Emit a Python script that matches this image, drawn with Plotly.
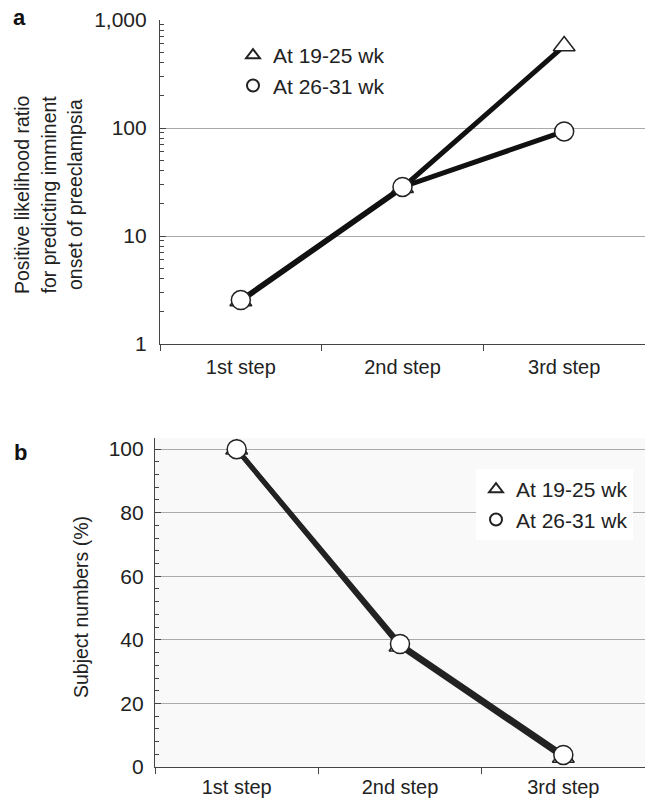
import plotly.graph_objects as go

steps = ["1st step", "2nd step", "3rd step"]
lr_19_25 = [2.5, 28, 575]
lr_26_31 = [2.55, 28.5, 93]
subj_19_25 = [100, 38, 3]
subj_26_31 = [100, 38.7, 3.8]
series_names = ["At 19-25 wk", "At 26-31 wk"]
log_ticks = [1, 10, 100, 1000]
log_ticktext = ["1", "10", "100", "1,000"]

FONT = "Liberation Sans, Arial, sans-serif"
fig = go.Figure()

def add_series(x, y, sym, xa, ya, lcol):
    fig.add_trace(go.Scatter(
        x=x, y=y, mode="lines+markers", xaxis=xa, yaxis=ya, showlegend=False,
        line=dict(color=lcol, width=5),
        marker=dict(symbol=sym, size=19,
                    color="white", line=dict(color="#222", width=1.5)),
        cliponaxis=False))

# panel a
add_series(steps, lr_19_25, "triangle-up", "x", "y", "#111")
add_series(steps, lr_26_31, "circle", "x", "y", "#111")
# panel b
add_series(steps, subj_19_25, "triangle-up", "x2", "y2", "#222")
add_series(steps, subj_26_31, "circle", "x2", "y2", "#222")

# legend entries
for leg, xa, ya in [("legend", "x", "y"), ("legend2", "x2", "y2")]:
    for name, sym in zip(series_names, ["triangle-up", "circle"]):
        fig.add_trace(go.Scatter(
            x=[None], y=[None], mode="markers", name=name, legend=leg,
            xaxis=xa, yaxis=ya,
            marker=dict(symbol=sym, size=19, color="white",
                        line=dict(color="#222", width=1.1))))

line_common = dict(showline=True, linecolor="#444", linewidth=1.2,
                   automargin=False)
yfont = dict(family=FONT, size=21, color="#222")
xfont = dict(family=FONT, size=20, color="#222")

fig.update_layout(
    width=645, height=803,
    margin=dict(l=0, r=0, t=0, b=0),
    paper_bgcolor="white", plot_bgcolor="rgba(0,0,0,0)",
    font=dict(family=FONT, color="#222"),
    xaxis=dict(domain=[160/645, 1.0], anchor="y", type="category",
               range=[-0.5, 2.5], tickson="boundaries", ticks="outside",
               ticklen=6, tickcolor="#444", showgrid=False,
               tickfont=xfont, ticklabelstandoff=5, **line_common),
    yaxis=dict(domain=[1-344/803, 1-20/803], anchor="x", type="log",
               range=[0, 3], tickvals=log_ticks, ticktext=log_ticktext,
               ticks="inside", ticklen=6, tickcolor="#444",
               ticklabelstandoff=8, tickfont=yfont,
               showgrid=True, gridcolor="#aaa", gridwidth=1,
               minor=dict(ticks="inside", ticklen=4, tickcolor="#444",
                          tickvals=[2, 3, 4, 5, 6, 7, 8, 9,
                                    20, 30, 40, 50, 60, 70, 80, 90,
                                    200, 300, 400, 500, 600, 700, 800, 900],
                          showgrid=False),
               **line_common),
    xaxis2=dict(domain=[155/645, 1.0], anchor="y2", type="category",
                range=[-0.5, 2.5], tickson="boundaries", ticks="outside",
                ticklen=6, tickcolor="#444", showgrid=False,
                tickfont=xfont, ticklabelstandoff=2, **line_common),
    yaxis2=dict(domain=[1-767/803, 1-438/803], anchor="x2",
                range=[0, 103.5], tickvals=[0, 20, 40, 60, 80, 100],
                ticks="inside", ticklen=6, tickcolor="#444",
                ticklabelstandoff=6, tickfont=yfont,
                showgrid=True, gridcolor="#aaa", gridwidth=1,
                minor=dict(ticks="inside", ticklen=4, tickcolor="#444",
                           dtick=4, showgrid=False),
                **line_common),
    legend=dict(x=233/645, y=1-35/803, xanchor="left", yanchor="top",
                bgcolor="rgba(0,0,0,0)", font=dict(family=FONT, size=21, color="#222"),
                itemsizing="constant", tracegroupgap=0),
    legend2=dict(x=476/645, y=1-469/803, xanchor="left", yanchor="top",
                 bgcolor="white", font=dict(family=FONT, size=21, color="#222"),
                 itemsizing="constant", tracegroupgap=0),
    shapes=[dict(type="rect", xref="x2 domain", yref="y2 domain",
                 x0=0, x1=1, y0=0, y1=1, fillcolor="#f9f9f9",
                 line=dict(width=0), layer="below")],
)

# y-axis titles
for i, txt in enumerate(["Positive likelihood ratio", "for predicting imminent",
                         "onset of preeclampsia"]):
    fig.add_annotation(text=txt, xref="paper", yref="paper",
                       x=(22 + 26.5 * i) / 645, y=1 - 195/803, textangle=-90,
                       showarrow=False, xanchor="center", yanchor="middle",
                       font=dict(family=FONT, size=19.5, color="#222"))
fig.add_annotation(text="Subject numbers (%)", xref="paper", yref="paper",
                   x=81/645, y=1-607/803, textangle=-90, showarrow=False,
                   xanchor="center", yanchor="middle",
                   font=dict(family=FONT, size=19.5, color="#222"))
# panel letters
fig.add_annotation(text="<b>a</b>", xref="paper", yref="paper", x=19/645,
                   y=1-18/803, showarrow=False, xanchor="center", yanchor="middle",
                   font=dict(family=FONT, size=22, color="#111"))
fig.add_annotation(text="<b>b</b>", xref="paper", yref="paper", x=20/645,
                   y=1-452/803, showarrow=False, xanchor="center", yanchor="middle",
                   font=dict(family=FONT, size=22, color="#111"))

fig.write_html("out.html", config={"displayModeBar": False},
               post_script="document.body.style.margin='0';document.body.style.overflow='hidden';")
